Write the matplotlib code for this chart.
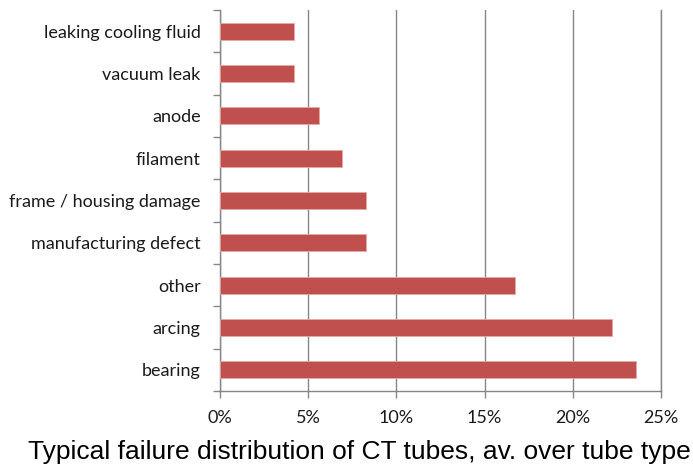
import numpy as np
import matplotlib.pyplot as plt
from matplotlib.ticker import FixedLocator, PercentFormatter

# Failure causes (bottom to top) and share of failures in %
causes = ['bearing', 'arcing', 'other', 'manufacturing defect',
          'frame / housing damage', 'filament', 'anode', 'vacuum leak',
          'leaking cooling fluid']
share = [23.6, 22.2, 16.7, 8.3, 8.3, 6.9, 5.6, 4.2, 4.2]
x_ticks = [0, 5, 10, 15, 20, 25]

W, H = 693, 469
fig = plt.figure(figsize=(W / 100, H / 100), dpi=100)
ax = fig.add_axes([220 / W, 1 - 391 / H, (661 - 220) / W, (391 - 10) / H])

grey = '#868686'
pos = np.arange(len(causes))
ax.barh(pos, share, height=0.4, color='#C0504D', edgecolor='#E6A9A7',
        linewidth=0.6, zorder=3)

ax.set_xlim(0, 25)
ax.set_ylim(-0.5, len(causes) - 0.5)
ax.set_xticks(x_ticks)
ax.xaxis.set_major_formatter(PercentFormatter(decimals=0))
ax.set_yticks(pos)
ax.set_yticklabels(causes)
ax.yaxis.set_minor_locator(FixedLocator(np.arange(-0.5, len(causes), 1.0)))

ax.grid(axis='x', color=grey, linewidth=1.0, zorder=0)
ax.spines['top'].set_visible(False)
# right spine stands in for the 25% gridline, which gets half clipped
for s in ['left', 'bottom', 'right']:
    ax.spines[s].set_color(grey)
    ax.spines[s].set_linewidth(1.0)

ax.tick_params(axis='y', which='major', length=0, pad=14)
ax.tick_params(axis='y', which='minor', length=5, color=grey, width=1.0)
ax.tick_params(axis='x', length=5, color=grey, width=1.0, pad=9)
for lab in ax.get_yticklabels() + ax.get_xticklabels():
    lab.set_fontfamily('Lato')
    lab.set_fontsize(13)
    lab.set_color('#1a1a1a')

fig.text(28 / W, 1 - 452 / H,
         'Typical failure distribution of CT tubes, av. over tube type',
         family='Liberation Sans', fontsize=19, ha='left', va='center')

fig.savefig('out.png', dpi=100)
